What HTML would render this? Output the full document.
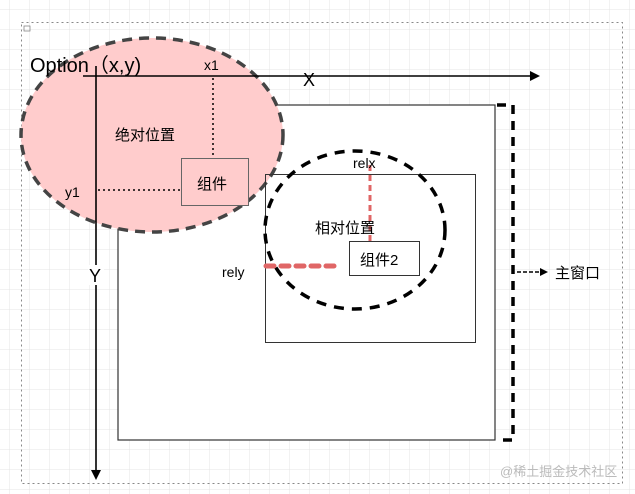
<!DOCTYPE html>
<html><head><meta charset="utf-8"><style>
html,body{margin:0;padding:0;background:#fff;}
svg{display:block;}
text{font-family:"Liberation Sans","Noto Sans CJK SC",sans-serif;}
</style></head><body>
<svg width="635" height="494" xmlns="http://www.w3.org/2000/svg">
<defs>
<pattern id="g" width="20" height="20" patternUnits="userSpaceOnUse" x="10" y="10">
<path d="M20 0V20M0 20H20" fill="none" stroke="#e4e4e4" stroke-width="1"/>
</pattern>
</defs>
<rect width="635" height="494" fill="#fff"/>
<rect width="635" height="494" fill="url(#g)"/>
<rect x="21.5" y="22.5" width="601" height="461" fill="none" stroke="#888" stroke-dasharray="2,3"/>
<rect x="24" y="26" width="6" height="5" fill="none" stroke="#888" stroke-width="0.8"/>
<!-- main window -->
<rect x="118" y="105" width="377" height="335" fill="#fff" stroke="#333" stroke-width="1.2"/>
<!-- pink ellipse -->
<ellipse cx="152" cy="135" rx="131" ry="97" fill="#ffcccc" stroke="#444" stroke-width="3.5" stroke-dasharray="10,7"/>
<!-- sub rect -->
<rect x="265.5" y="174.5" width="210" height="168" fill="none" stroke="#333"/>
<!-- axes -->
<line x1="83" y1="76" x2="535" y2="76" stroke="#000" stroke-width="1.6"/>
<path d="M530 71L540 76L530 81Z" fill="#000"/>
<line x1="96" y1="66" x2="96" y2="472" stroke="#000" stroke-width="1.6"/>
<path d="M91 470L96 480L101 470Z" fill="#000"/>
<rect x="303" y="70" width="14" height="14" fill="#fff" opacity="0"/>
<text x="303" y="86" font-size="18">X</text>
<rect x="88" y="265" width="16" height="20" fill="#fff"/>
<text x="89" y="282" font-size="18">Y</text>
<text x="30" y="72" font-size="20">Option（x,y)</text>
<text x="204" y="70" font-size="14">x1</text>
<text x="65" y="197" font-size="14">y1</text>
<!-- dotted guides -->
<line x1="213" y1="78" x2="213" y2="158" stroke="#000" stroke-width="1.5" stroke-dasharray="2,3"/>
<line x1="98" y1="190" x2="181" y2="190" stroke="#000" stroke-width="1.5" stroke-dasharray="2,3"/>
<text x="115" y="140" font-size="15">绝对位置</text>
<rect x="181.5" y="158.5" width="67" height="47" fill="#ffcccc" stroke="#666"/>
<text x="197" y="189" font-size="15">组件</text>
<!-- relative circle -->
<ellipse cx="355" cy="230" rx="90" ry="79" fill="none" stroke="#000" stroke-width="3.5" stroke-dasharray="10,8"/>
<line x1="370" y1="165" x2="370" y2="241" stroke="#e06666" stroke-width="3" stroke-dasharray="6,4"/>
<line x1="266" y1="266" x2="340" y2="266" stroke="#e06666" stroke-width="5" stroke-dasharray="8,7" stroke-linecap="round"/>
<text x="353" y="168" font-size="14">relx</text>
<text x="222" y="277" font-size="14">rely</text>
<text x="315" y="233" font-size="15">相对位置</text>
<rect x="349.5" y="241.5" width="70" height="34" fill="#fff" stroke="#333"/>
<text x="360" y="265" font-size="15">组件2</text>
<!-- bracket -->
<path d="M497 105H513V440H497" fill="none" stroke="#000" stroke-width="3.5" stroke-dasharray="9,7"/>
<line x1="517" y1="272" x2="543" y2="272" stroke="#000" stroke-width="1.5" stroke-dasharray="4,2"/>
<path d="M540 268L548 272L540 276Z" fill="#000"/>
<text x="555" y="278" font-size="15">主窗口</text>
<text x="500" y="476" font-size="13" fill="#bbb">@稀土掘金技术社区</text>
</svg>
</body></html>
